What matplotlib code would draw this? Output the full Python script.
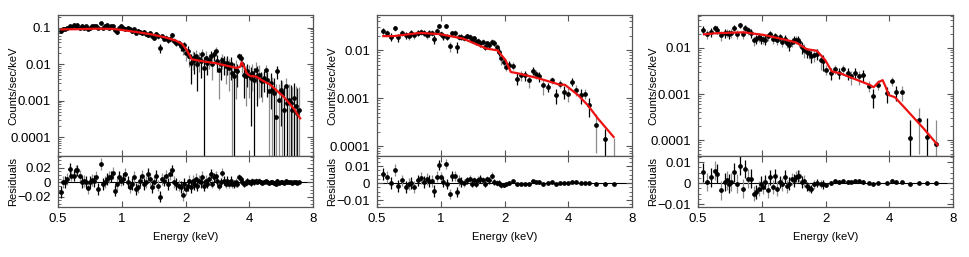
import numpy as np
import matplotlib
matplotlib.use("Agg")
import matplotlib.pyplot as plt
import matplotlib.ticker as ticker

plt.rcParams["font.family"] = ["Liberation Sans", "DejaVu Sans"]

# ── Panel 1 (bright source) ───────────────────────────────────────────────────

E1 = [0.518, 0.528, 0.538, 0.553, 0.567, 0.578, 0.592, 0.605, 0.616, 0.632,
      0.648, 0.662, 0.680, 0.692, 0.710, 0.722, 0.738, 0.757, 0.774, 0.794,
      0.811, 0.829, 0.850, 0.869, 0.891, 0.910, 0.930, 0.951, 0.971, 0.993,
      1.018, 1.040, 1.067, 1.090, 1.114, 1.139, 1.168, 1.193, 1.220, 1.246,
      1.278, 1.306, 1.335, 1.364, 1.394, 1.424, 1.456, 1.487, 1.520, 1.553,
      1.587, 1.622, 1.658, 1.694, 1.731, 1.769, 1.808,
      1.867, 1.900, 1.936, 1.971, 2.007, 2.043, 2.080, 2.118, 2.157, 2.196,
      2.236, 2.277, 2.319, 2.361, 2.404, 2.448, 2.493, 2.538, 2.585, 2.632,
      2.680, 2.729, 2.778, 2.828, 2.880, 2.933, 2.986, 3.040, 3.095, 3.152,
      3.209, 3.268, 3.327, 3.388, 3.449, 3.512, 3.576, 3.640, 3.710, 3.775,
      3.845, 3.915, 3.986, 4.058, 4.130, 4.210, 4.280, 4.360, 4.440, 4.520,
      4.600, 4.690, 4.770, 4.860, 4.950, 5.040, 5.130, 5.220, 5.320, 5.420,
      5.520, 5.620, 5.720, 5.820, 5.930, 6.040, 6.150, 6.260, 6.370, 6.490,
      6.610, 6.730, 6.850]

RATE1 = [0.081, 0.090, 0.094, 0.100, 0.111, 0.104, 0.116, 0.107, 0.116, 0.100,
         0.107, 0.100, 0.107, 0.094, 0.100, 0.111, 0.107, 0.111, 0.100, 0.132,
         0.100, 0.111, 0.116, 0.100, 0.111, 0.107, 0.086, 0.076, 0.100, 0.107,
         0.100, 0.094, 0.100, 0.090, 0.081, 0.090, 0.073, 0.081, 0.076, 0.070,
         0.076, 0.066, 0.062, 0.070, 0.059, 0.053, 0.066, 0.057, 0.028, 0.059,
         0.050, 0.053, 0.046, 0.048, 0.062, 0.043, 0.039,
         0.0387, 0.0313, 0.0253, 0.0327, 0.0205, 0.0228, 0.0166, 0.0109, 0.0149, 0.0134,
         0.0166, 0.0098, 0.0140, 0.0121, 0.0185, 0.0079, 0.0149, 0.0109, 0.0134, 0.0166,
         0.0098, 0.0185, 0.0228, 0.0121, 0.0071, 0.0098, 0.0134, 0.0109, 0.0088, 0.0109,
         0.0079, 0.0098, 0.0058, 0.0047, 0.0071, 0.0064, 0.0166, 0.0149, 0.0098, 0.0052,
         0.0047, 0.0064, 0.0052, 0.0042, 0.0058, 0.0038, 0.0071, 0.0047, 0.0052, 0.0038,
         0.0034, 0.0042, 0.0071, 0.0038, 0.0018, 0.0031, 0.0020, 0.0016, 0.00037, 0.0064,
         0.00107, 0.0020, 0.0016, 0.00056, 0.0025, 0.00086, 0.00107, 0.00086, 0.00056, 0.00118,
         0.0007, 0.00046, 0.00056]

RES1 = [-0.0138, 0.0000, 0.0000, 0.0046, 0.0184, 0.0092, 0.0092, 0.0161, 0.0161, 0.0092,
        0.0000, 0.0014, 0.0000, -0.0078, 0.0000, 0.0032, 0.0014, 0.0069, -0.0092, 0.0253,
        -0.0023, 0.0000, 0.0046, 0.0069, 0.0078, 0.0124, -0.0115, -0.0023, 0.0069, 0.0023,
        0.0046, 0.0115, 0.0000, -0.0069, -0.0023, 0.0069, -0.0092, -0.0069, 0.0023, 0.0092,
        -0.0023, 0.0000, 0.0115, 0.0046, -0.0069, 0.0000, 0.0092, -0.0046, -0.0198, 0.0046,
        0.0023, 0.0092, -0.0023, 0.0115, 0.0161, 0.0000, -0.0023,
        -0.0046, -0.0069, -0.0180, -0.0023, -0.0092, -0.0046, 0.0023, -0.0069, 0.0023, -0.0023,
        0.0046, -0.0046, 0.0023, 0.0000, 0.0069, -0.0046, 0.0023, -0.0023, 0.0046, 0.0115,
        -0.0023, 0.0069, 0.0092, 0.0023, -0.0046, 0.0000, 0.0130, 0.0023, -0.0023, 0.0023,
        -0.0023, 0.0023, -0.0023, -0.0023, 0.0000, -0.0023, 0.0069, 0.0046, 0.0000, -0.0023,
        -0.0009, 0.0023, 0.0000, -0.0009, 0.0014, 0.0000, 0.0023, 0.0009, 0.0023, 0.0000,
        -0.0009, 0.0009, 0.0023, 0.0009, -0.0009, 0.0009, 0.0000, -0.0009, -0.0023, 0.0023,
        -0.0009, 0.0009, 0.0000, -0.0009, 0.0014, 0.0000, 0.0000, 0.0000, -0.0005, 0.0009,
        0.0000, -0.0005, 0.0000]

# 1-sigma errors, read per energy band (upper band edge in keV)
ERR1_EDGES = [2.5, 3.5, 4.5, 5.5, 9.0]
ERR1 = [0.008, 0.006, 0.004, 0.0025, 0.0018]

MODEL1_E = [0.52, 0.6, 0.75, 0.9, 1.0, 1.2, 1.4, 1.6, 1.8, 1.92, 2.02, 2.14, 2.4,
            2.8, 3.2, 3.5, 3.62, 3.68, 3.78, 3.9, 4.05, 4.3, 4.6, 5.0, 5.8, 6.5, 6.95]
MODEL1_V = [0.089, 0.090, 0.093, 0.092, 0.086, 0.074, 0.064, 0.054, 0.044, 0.036,
            0.025, 0.0135, 0.012, 0.0105, 0.0088, 0.0078, 0.0085, 0.0113, 0.0085,
            0.0055, 0.0047, 0.0046, 0.0036, 0.0028, 0.0013, 0.0006, 0.00033]

# ── Panel 2 ───────────────────────────────────────────────────────────────────

E2 = [0.534, 0.559, 0.584, 0.609, 0.627, 0.657, 0.686, 0.706, 0.724, 0.750,
      0.778, 0.806, 0.830, 0.860, 0.882, 0.904, 0.930, 0.958, 0.982, 1.000,
      1.026, 1.056, 1.075, 1.106, 1.134, 1.163, 1.197, 1.218, 1.249, 1.286,
      1.323, 1.367, 1.397, 1.432, 1.468, 1.500, 1.538, 1.583, 1.624, 1.653,
      1.696, 1.745, 1.789, 1.841, 1.875, 1.930, 1.980, 2.030, 2.100, 2.180,
      2.280, 2.390, 2.500, 2.610, 2.710, 2.800, 2.910, 3.040, 3.210, 3.350,
      3.510, 3.670, 3.820, 3.990, 4.160, 4.360, 4.570, 4.770, 4.980, 5.410,
      5.960, 6.540]

RATE2 = [0.0254, 0.0230, 0.0190, 0.0284, 0.0184, 0.0230, 0.0206, 0.0196, 0.0223, 0.0206,
         0.0230, 0.0242, 0.0230, 0.0206, 0.0223, 0.0230, 0.0167, 0.0254, 0.0317, 0.0216,
         0.0196, 0.0317, 0.0190, 0.0121, 0.0223, 0.0230, 0.0117, 0.0190, 0.0190, 0.0175,
         0.0196, 0.0190, 0.0162, 0.0175, 0.0149, 0.0157, 0.0138, 0.0149, 0.0117, 0.0138,
         0.0127, 0.0149, 0.0142, 0.0114, 0.0092, 0.0067, 0.0057, 0.0045, 0.0049, 0.0047,
         0.00256, 0.0030, 0.0030, 0.00236, 0.0037, 0.00315, 0.00286, 0.00185, 0.00171, 0.00236,
         0.00115, 0.00201, 0.00135, 0.00124, 0.00218, 0.00151, 0.00115, 0.00124, 0.00071, 0.00027,
         0.000142, 0.00004]

RES2 = [0.0054, 0.0035, 0.0000, 0.0077, -0.0019, 0.0015, -0.0023, -0.0004, 0.0000, -0.0023,
        0.0015, 0.0029, 0.0006, 0.0025, 0.0010, 0.0012, -0.0048, 0.0038, 0.0108, 0.0035,
        0.0006, 0.0112, -0.0004, -0.0065, 0.0040, 0.0040, -0.0052, 0.0015, 0.0006, 0.0000,
        0.0015, 0.0025, -0.0004, 0.0015, -0.0004, 0.0019, 0.0025, 0.0015, -0.0004, 0.0025,
        0.0015, 0.0044, 0.0006, 0.0002, 0.0000, -0.0013, -0.0013, -0.0008, 0.0000, 0.0012,
        -0.0008, -0.0004, -0.0004, -0.0008, 0.0010, 0.0004, 0.0004, -0.0004, 0.0000, 0.0004,
        -0.0004, 0.0000, 0.0000, 0.0000, 0.0008, 0.0004, 0.0002, 0.0000, 0.0000, -0.0004,
        -0.0004, -0.0004]

ERR2_EDGES = [0.95, 1.25, 1.6, 1.95, 2.2, 3.1, 4.6, 5.2, 5.7, 6.2, 9.0]
ERR2 = [0.0035, 0.003, 0.0022, 0.0018, 0.0009, 0.0007, 0.0004, 0.0003, 0.0002, 0.00009, 0.00011]

MODEL2_E = [0.535, 0.6, 0.8, 0.99, 1.27, 1.64, 1.85, 2.02, 2.14, 2.3, 2.88, 3.65,
            3.85, 4.45, 4.94, 5.5, 6.54]
MODEL2_V = [0.0196, 0.0196, 0.0229, 0.0215, 0.0175, 0.0108, 0.0099, 0.0062, 0.0035,
            0.0033, 0.0026, 0.0019, 0.0019, 0.00115, 0.00071, 0.00038, 0.000155]

# ── Panel 3 ───────────────────────────────────────────────────────────────────

E3 = [0.528, 0.553, 0.578, 0.603, 0.616, 0.639, 0.667, 0.684, 0.699, 0.717,
      0.743, 0.765, 0.790, 0.814, 0.835, 0.859, 0.890, 0.923, 0.940, 0.967,
      0.993, 1.010, 1.035, 1.065, 1.096, 1.125, 1.150, 1.180, 1.220, 1.250,
      1.280, 1.320, 1.340, 1.390, 1.420, 1.450, 1.480, 1.500, 1.550, 1.590,
      1.630, 1.670, 1.710, 1.760, 1.830, 1.900, 1.950, 2.020, 2.120, 2.220,
      2.320, 2.420, 2.540, 2.630, 2.750, 2.880, 3.010, 3.190, 3.360, 3.550,
      3.900, 4.100, 4.310, 4.570, 4.990, 5.520, 6.040, 6.660]

RATE3 = [0.0249, 0.0198, 0.0222, 0.0276, 0.0249, 0.0188, 0.0211, 0.0214, 0.0204, 0.0211,
         0.0276, 0.0204, 0.0310, 0.0198, 0.0276, 0.0241, 0.0211, 0.0147, 0.0159, 0.0173,
         0.0157, 0.0159, 0.0152, 0.0179, 0.0204, 0.0159, 0.0179, 0.0152, 0.0173, 0.0135,
         0.0159, 0.0128, 0.0118, 0.0137, 0.0152, 0.0152, 0.0152, 0.0135, 0.0105, 0.0092,
         0.0082, 0.0077, 0.0066, 0.0069, 0.0075, 0.0054, 0.0052, 0.0034, 0.0028, 0.0035,
         0.0029, 0.0035, 0.0028, 0.0024, 0.0029, 0.0024, 0.0026, 0.0015, 0.0009, 0.0016,
         0.00105, 0.0019, 0.00111, 0.00111, 0.000109, 0.00027, 0.000114, 0.000080]

RES3 = [0.0052, 0.0005, 0.0028, 0.0059, 0.0044, -0.0034, 0.0005, 0.0013, -0.0003, 0.0005,
        0.0052, -0.0003, 0.0083, -0.0027, 0.0067, 0.0020, 0.0020, -0.0050, -0.0042, -0.0027,
        -0.0003, -0.0019, 0.0005, -0.0034, 0.0028, -0.0019, 0.0033, -0.0027, 0.0005, -0.0006,
        0.0031, -0.0016, -0.0003, 0.0020, 0.0013, 0.0028, 0.0033, 0.0033, 0.0005, 0.0009,
        -0.0016, -0.0022, -0.0027, -0.0006, 0.0000, -0.0003, -0.0006, -0.0009, 0.0000, 0.0008,
        0.0005, 0.0009, 0.0005, 0.0006, 0.0009, 0.0008, 0.0005, 0.0000, -0.0003, 0.0000,
        0.0002, 0.0009, 0.0005, 0.0005, -0.0003, 0.0000, 0.0000, 0.0000]

ERR3_EDGES = [0.9, 1.2, 1.6, 1.97, 3.1, 4.7, 5.2, 5.7, 6.3, 9.0]
ERR3 = [0.0045, 0.0035, 0.003, 0.002, 0.0008, 0.0004, 0.00016, 0.00022, 0.00018, 0.00019]

MODEL3_E = [0.534, 0.61, 0.82, 1.02, 1.31, 1.46, 1.63, 1.82, 1.99, 2.14, 2.35, 3.24,
            3.37, 3.55, 3.72, 3.85, 3.97, 4.25, 4.83, 5.8, 6.76]
MODEL3_V = [0.0198, 0.0209, 0.0219, 0.0192, 0.0149, 0.013, 0.0094, 0.0087, 0.0055,
            0.0031, 0.0028, 0.00157, 0.0014, 0.0018, 0.0020, 0.0014, 0.00095, 0.00085,
            0.00045, 0.000179, 0.000078]

# ── Style ─────────────────────────────────────────────────────────────────────

FRAME = "#555555"
GREY_BAR = "#8c8c8c"
MODEL_RED = "#ee1111"
XERR_FRAC = 0.014        # half bin width as a fraction of energy
FS_LABEL = 8
FS_TICK = 9.5


def style_axes(ax):
    for sp in ax.spines.values():
        sp.set_color(FRAME)
        sp.set_linewidth(0.9)
    ax.tick_params(which="both", direction="in", top=True, right=True,
                   color=FRAME, labelsize=FS_TICK)
    ax.tick_params(which="major", length=4, width=0.8)
    ax.tick_params(which="minor", length=2, width=0.6)
    ax.tick_params(axis="x", pad=4.5)
    ax.tick_params(axis="y", pad=5)
    ax.set_xscale("log")
    ax.set_xlim(0.5, 8)
    ax.xaxis.set_major_locator(ticker.FixedLocator([0.5, 1, 2, 4, 8]))
    ax.xaxis.set_major_formatter(ticker.FuncFormatter(lambda v, p: f"{v:g}"))
    ax.xaxis.set_minor_locator(ticker.NullLocator())


def draw_panel(fig, left, e, rate, res, edges, levels, mod_e, mod_v,
               ylim, rlim, rticks):
    width = 0.263
    ax = fig.add_axes([left, 0.393, width, 0.5486])
    axr = fig.add_axes([left, 0.1946, width, 0.1984])

    e = np.asarray(e)
    rate = np.asarray(rate)
    res = np.asarray(res)
    err = np.asarray(levels)[np.searchsorted(edges, e)]
    # on the log axis a bar whose lower end is <= 0 runs off the bottom
    lo = np.minimum(err, rate * 0.999999)
    xerr = XERR_FRAC * e

    for parity, col in ((0, "black"), (1, GREY_BAR)):
        sl = slice(parity, None, 2)
        kw = dict(fmt="o", ms=2.4, mfc="black", mec="black", ecolor=col,
                  elinewidth=0.9, capsize=0, zorder=2)
        ax.errorbar(e[sl], rate[sl], yerr=[lo[sl], err[sl]], xerr=xerr[sl], **kw)
        axr.errorbar(e[sl], res[sl], yerr=err[sl], xerr=xerr[sl], **kw)

    ax.plot(mod_e, mod_v, color=MODEL_RED, lw=1.6, zorder=3)
    axr.axhline(0, color="black", lw=0.8, zorder=1)

    style_axes(ax)
    style_axes(axr)

    ax.set_yscale("log")
    ax.set_ylim(*ylim)
    ax.yaxis.set_major_locator(ticker.LogLocator(base=10, numticks=10))
    ax.yaxis.set_minor_locator(ticker.LogLocator(base=10, subs=np.arange(2, 10), numticks=20))
    ax.yaxis.set_major_formatter(ticker.FuncFormatter(lambda v, p: f"{v:g}"))
    ax.yaxis.set_minor_formatter(ticker.NullFormatter())
    ax.tick_params(labelbottom=False)
    ax.set_ylabel("Counts/sec/keV", fontsize=FS_LABEL)
    ax.yaxis.set_label_coords(-0.157, 0.5)

    axr.set_ylim(*rlim)
    axr.yaxis.set_major_locator(ticker.FixedLocator(rticks))
    axr.yaxis.set_major_formatter(
        ticker.FuncFormatter(lambda v, p: f"{v:g}".replace("-", "\u2212")))
    axr.yaxis.set_minor_locator(ticker.AutoMinorLocator(4))
    axr.set_ylabel("Residuals", fontsize=FS_LABEL)
    axr.yaxis.set_label_coords(-0.157, 0.5)
    axr.set_xlabel("Energy (keV)", fontsize=FS_LABEL)
    axr.xaxis.set_label_coords(0.5, -0.49)


def main():
    fig = plt.figure(figsize=(9.7, 2.57), dpi=100)
    draw_panel(fig, 0.0598, E1, RATE1, RES1, ERR1_EDGES, ERR1, MODEL1_E, MODEL1_V,
               (3.1e-5, 0.22), (-0.034, 0.036), [-0.02, 0, 0.02])
    draw_panel(fig, 0.3887, E2, RATE2, RES2, ERR2_EDGES, ERR2, MODEL2_E, MODEL2_V,
               (6.2e-5, 0.054), (-0.0141, 0.0159), [-0.01, 0, 0.01])
    draw_panel(fig, 0.7196, E3, RATE3, RES3, ERR3_EDGES, ERR3, MODEL3_E, MODEL3_V,
               (4.5e-5, 0.052), (-0.0114, 0.0129), [-0.01, 0, 0.01])
    fig.savefig("out.png", dpi=100)


if __name__ == "__main__":
    main()
